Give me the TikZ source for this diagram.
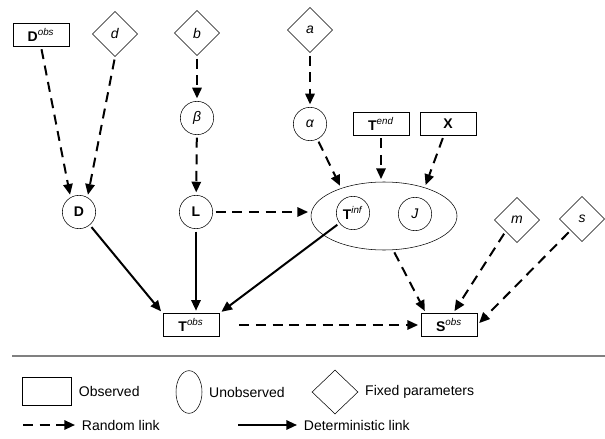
\documentclass[tikz,border=0pt]{standalone}
\usepackage{fontspec}
\setmainfont{Liberation Sans}
\usetikzlibrary{arrows.meta,shapes.geometric,positioning}

\begin{document}
\begin{tikzpicture}[
        x=0.75pt, y=-0.75pt,
        font=\fontsize{10.5}{12}\selectfont,
        observed/.style={draw, rectangle, minimum width=42pt, minimum height=17pt, inner sep=0pt},
        latent/.style={draw, circle, minimum size=25pt, inner sep=0pt},
        fixed/.style={draw, diamond, minimum width=34pt, minimum height=34pt, inner sep=0pt},
        rand/.style={line width=1.5pt, dash pattern=on 7.5pt off 5pt, -{Triangle[length=8pt,width=7pt]}, shorten >=2pt, shorten <=2pt},
        det/.style={line width=1.5pt, -{Triangle[length=8pt,width=7pt]}, shorten >=2pt, shorten <=2pt},
        legtext/.style={right=5pt of #1, inner sep=0pt}
    ]
        \useasboundingbox (0,0) rectangle (605,438);

        \node[observed] (dobs) at (41,35) {\textbf{D}\textsuperscript{\textit{obs}}};
        \node[fixed] (pd) at (115,34) {\textit{d}};
        \node[fixed] (pb) at (197,33) {\textit{b}};
        \node[fixed] (pa) at (310,30) {\textit{a}};
        \node[latent] (beta) at (197,118) {\textit{β}};
        \node[latent] (alpha) at (310,124) {\textit{α}};
        \node[observed] (tend) at (381,124) {\textbf{T}\textsuperscript{\textit{end}}};
        \node[observed] (xx) at (448,124) {\textbf{X}};
        \node[draw, ellipse, minimum width=109.5pt, minimum height=51pt] (grp) at (384,216) {};
        \node[latent] (tinf) at (353,213) {\textbf{T}\textsuperscript{\textit{inf}}};
        \node[latent] (jj) at (415,214) {\textit{J}};
        \node[latent] (dd) at (79,212) {\textbf{D}};
        \node[latent] (ll) at (196,212) {\textbf{L}};
        \node[observed] (tobs) at (191,325) {\textbf{T}\textsuperscript{\textit{obs}}};
        \node[observed] (sobs) at (449,325) {\textbf{S}\textsuperscript{\textit{obs}}};
        \node[fixed] (pm) at (517,220) {\textit{m}};
        \node[fixed] (ps) at (582,219) {\textit{s}};

        \draw[rand] (dobs.south) -- (dd.120);
        \draw[rand] (pd.south) -- (dd.60);
        \draw[rand] (pb) -- (beta);
        \draw[rand] (beta) -- (ll);
        \draw[rand] (pa) -- (alpha);
        \draw[rand] (alpha) -- (grp.147);
        \draw[rand] (tend) -- (tend |- grp.north);
        \draw[rand] (xx) -- (grp.35);
        \draw[rand] (ll) -- (ll -| grp.west);
        \draw[det] (dd) -- (tobs.north west);
        \draw[det] (ll) -- (ll |- tobs.north);
        \draw[det] (tinf) -- (tobs.north east);
        \draw[rand] (grp.-75) -- ([xshift=4pt]sobs.north west);
        \draw[rand] (pm.south west) -- ([xshift=3pt]sobs.north);
        \draw[rand] (ps.south west) -- (sobs.east);
        \draw[rand, shorten <=15pt] (tobs) -- (sobs);

        \draw[gray, line width=0.8pt] (12,356) -- (605,356);

        \node[draw, rectangle, minimum width=37pt, minimum height=21pt, inner sep=0pt] (lobs) at (47,391) {};
        \node[legtext=lobs] (tobsv) {Observed};
        \node[draw, ellipse, minimum width=19.5pt, minimum height=32pt, inner sep=0pt] (lunobs) at (189,392) {};
        \node[legtext=lunobs] (tunobs) {Unobserved};
        \node[draw, diamond, minimum width=34.5pt, minimum height=33pt, inner sep=0pt] (lfix) at (335,392) {};
        \node[legtext=lfix] (tfix) {Fixed parameters};

        \coordinate (ra) at (23,425);
        \coordinate (rb) at (75,425);
        \coordinate (da) at (238,425);
        \coordinate (db) at (297,425);
        \draw[rand, shorten <=0pt, shorten >=0pt] (ra) -- (rb);
        \draw[det, shorten <=0pt, shorten >=0pt] (da) -- (db);
        \node[legtext=rb] (trand) {Random link};
        \node[legtext=db] (tdet) {Deterministic link};
    \end{tikzpicture}
\end{document}
